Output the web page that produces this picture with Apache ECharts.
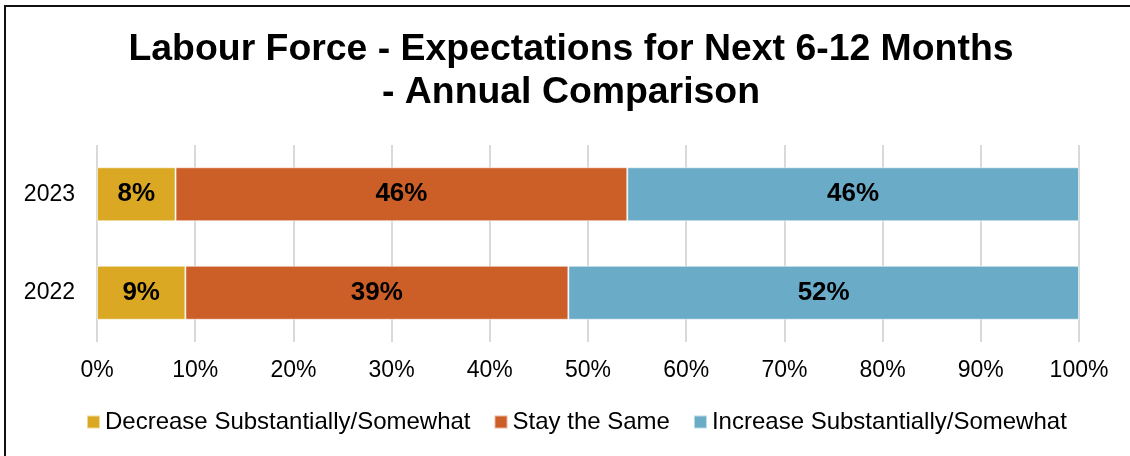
<!DOCTYPE html>
<html>
<head>
<meta charset="utf-8">
<script src="https://cdn.jsdelivr.net/npm/echarts@6/dist/echarts.min.js"></script>
<style>
  html, body { margin: 0; padding: 0; background: #fff; }
  #chart { width: 1130px; height: 456px; }
</style>
</head>
<body>
<div id="chart"></div>
<script>
const categories = ['2022', '2023'];
const seriesNames = ['Decrease Substantially/Somewhat', 'Stay the Same', 'Increase Substantially/Somewhat'];
const decreaseValues = [9, 8];
const sameValues = [39, 46];
const increaseValues = [52, 46];
const xTickValues = [0, 10, 20, 30, 40, 50, 60, 70, 80, 90, 100];
const colors = ['#DAA822', '#CC5E28', '#6AABC8'];

const font = "'Liberation Sans', Arial, sans-serif";
const chart = echarts.init(document.getElementById('chart'), null, { renderer: 'canvas' });

function makeSeries(name, data, color) {
  return {
    name: name,
    type: 'bar',
    stack: 'total',
    data: data,
    barWidth: 54,
    itemStyle: { color: color, borderColor: 'rgba(255,255,255,0.55)', borderWidth: 1 },
    label: {
      show: true,
      position: 'inside',
      formatter: '{c}%',
      color: '#000',
      fontFamily: font,
      fontWeight: 'bold',
      fontSize: 26
    },
    emphasis: { disabled: true }
  };
}

chart.setOption({
  animation: false,
  backgroundColor: '#fff',
  title: {
    text: 'Labour Force - Expectations for Next 6-12 Months\n- Annual Comparison',
    left: 571,
    textAlign: 'center',
    top: 28,
    padding: 0,
    textStyle: {
      fontFamily: font,
      fontWeight: 'bold',
      fontSize: 37.4,
      lineHeight: 43,
      color: '#000'
    }
  },
  graphic: [{
    type: 'rect',
    z: -10,
    silent: true,
    shape: { x: 5, y: 6, width: 1300, height: 700 },
    style: { fill: 'none', stroke: '#111', lineWidth: 2 }
  }],
  legend: {
    left: 81,
    top: 405,
    itemWidth: 13,
    itemHeight: 13,
    itemGap: 23,
    icon: 'rect',
    textStyle: { fontFamily: font, fontSize: 24, color: '#000' },
    data: seriesNames
  },
  grid: { left: 97, right: 51, top: 145, bottom: 114, containLabel: false },
  xAxis: {
    type: 'value',
    min: xTickValues[0],
    max: xTickValues[xTickValues.length - 1],
    interval: 10,
    axisLine: { show: false },
    axisTick: { show: false },
    splitLine: { show: true, lineStyle: { color: '#D9D9D9', width: 2 } },
    axisLabel: {
      formatter: '{value}%',
      fontFamily: font,
      fontSize: 23,
      color: '#000',
      margin: 17
    }
  },
  yAxis: {
    type: 'category',
    data: categories,
    axisLine: { show: false },
    axisTick: { show: false },
    splitLine: { show: false },
    axisLabel: {
      fontFamily: font,
      fontSize: 23,
      color: '#000',
      margin: 22
    }
  },
  series: [
    makeSeries(seriesNames[0], decreaseValues, colors[0]),
    makeSeries(seriesNames[1], sameValues, colors[1]),
    makeSeries(seriesNames[2], increaseValues, colors[2])
  ]
});
</script>
</body>
</html>
